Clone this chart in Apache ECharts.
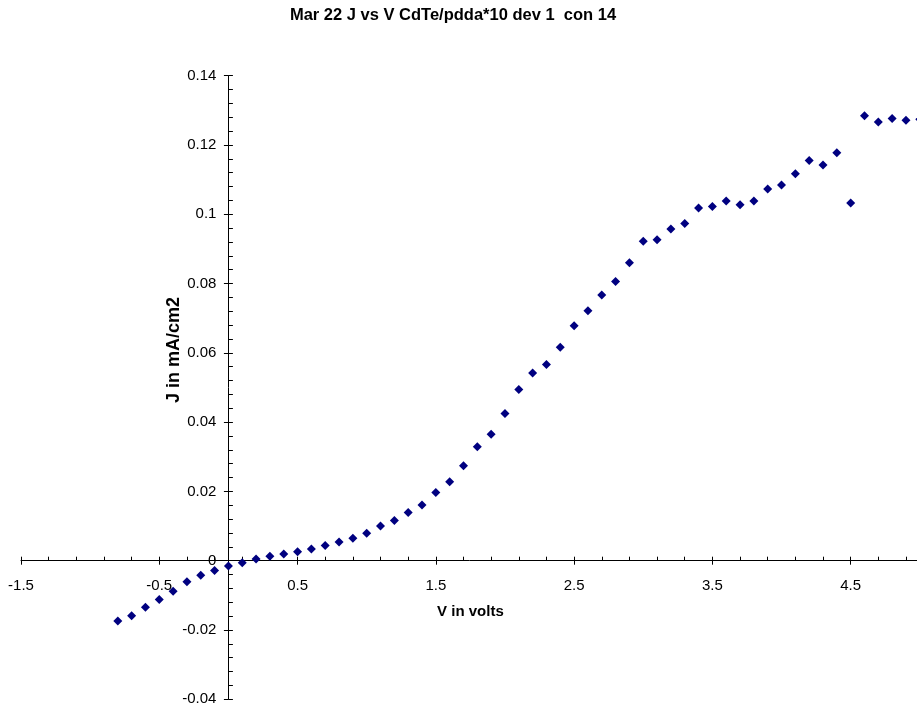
<!DOCTYPE html>
<html>
<head>
<meta charset="utf-8">
<script src="https://cdn.jsdelivr.net/npm/echarts@6/dist/echarts.min.js"></script>
<style>html,body{margin:0;padding:0;background:#fff;}#c{width:917px;height:708px;}</style>
</head>
<body>
<div id="c"></div>
<script>
// Data
var voltage = [-0.8,-0.7,-0.6,-0.5,-0.4,-0.3,-0.2,-0.1,0.0,0.1,0.2,0.3,0.4,0.5,0.6,0.7,0.8,0.9,1.0,1.1,1.2,1.3,1.4,1.5,1.6,1.7,1.8,1.9,2.0,2.1,2.2,2.3,2.4,2.5,2.6,2.7,2.8,2.9,3.0,3.1,3.2,3.3,3.4,3.5,3.6,3.7,3.8,3.9,4.0,4.1,4.2,4.3,4.4,4.5,4.6,4.7,4.8,4.9,5.0];
var current = [-0.0174,-0.0159,-0.0134,-0.0112,-0.0088,-0.0061,-0.0042,-0.0028,-0.0015,-0.0006,0.0005,0.0013,0.0019,0.0026,0.0034,0.0044,0.0054,0.0065,0.0079,0.0100,0.0116,0.0139,0.0161,0.0197,0.0228,0.0274,0.0329,0.0365,0.0425,0.0494,0.0542,0.0566,0.0616,0.0678,0.0721,0.0767,0.0806,0.0860,0.0922,0.0926,0.0957,0.0973,0.1018,0.1022,0.1038,0.1027,0.1038,0.1073,0.1084,0.1117,0.1155,0.1142,0.1177,0.1032,0.1284,0.1266,0.1276,0.1271,0.1274];
var xMajorTicks = [-1.5,-0.5,0.5,1.5,2.5,3.5,4.5];
var xMinorTicks = [-1.5,-1.3,-1.1,-0.9,-0.7,-0.5,-0.3,-0.1,0.1,0.3,0.5,0.7,0.9,1.1,1.3,1.5,1.7,1.9,2.1,2.3,2.5,2.7,2.9,3.1,3.3,3.5,3.7,3.9,4.1,4.3,4.5,4.7,4.9];
var titleText = 'Mar 22 J vs V CdTe/pdda*10 dev 1  con 14';
var xName = 'V in volts';
var yName = 'J in mA/cm2';

var X_MIN = -1.5, X_MAX = 5, Y_MIN = -0.04, Y_MAX = 0.14;
var G = { left: 21, top: 75.6, width: 898.8, height: 623.7 };
// axes cross at zero: shift axes from grid edges to the zero lines
var yOff = -G.width * (0 - X_MIN) / (X_MAX - X_MIN);
var xOff = -G.height * (0 - Y_MIN) / (Y_MAX - Y_MIN);

var points = voltage.map(function (v, i) { return [v, current[i]]; });
var FONT = 'Liberation Sans, Arial, sans-serif';

var chart = echarts.init(document.getElementById('c'));
chart.setOption({
  animation: false,
  backgroundColor: '#fff',
  grid: { left: G.left, top: G.top, width: G.width, height: G.height, containLabel: false, outerBoundsMode: 'none' },
  xAxis: [{
    type: 'value', min: X_MIN, max: X_MAX, position: 'bottom', offset: xOff,
    axisLine: { show: true, onZero: false, lineStyle: { color: '#000', width: 1 } },
    axisTick: { show: true, length: 4, customValues: xMajorTicks, lineStyle: { color: '#000' } },
    axisLabel: { customValues: xMajorTicks, margin: 18, color: '#000', fontFamily: FONT, fontSize: 15 },
    splitLine: { show: false },
    name: xName, nameLocation: 'middle', nameGap: 44,
    nameTextStyle: { fontFamily: FONT, fontWeight: 'bold', fontSize: 15, color: '#000' }
  }, {
    type: 'value', min: X_MIN, max: X_MAX, position: 'bottom', offset: xOff,
    axisLine: { show: false, onZero: false },
    axisTick: { show: true, inside: true, length: 4, customValues: xMinorTicks, lineStyle: { color: '#000' } },
    axisLabel: { show: false },
    splitLine: { show: false }
  }],
  yAxis: [{
    type: 'value', min: Y_MIN, max: Y_MAX, interval: 0.02, position: 'left', offset: yOff,
    axisLine: { show: true, onZero: false, lineStyle: { color: '#000', width: 1 } },
    axisTick: { show: true, length: 4.5, lineStyle: { color: '#000' } },
    axisLabel: { margin: 12, color: '#000', fontFamily: FONT, fontSize: 15 },
    splitLine: { show: false }
  }, {
    type: 'value', min: Y_MIN, max: Y_MAX, interval: 0.02, position: 'left', offset: yOff,
    axisLine: { show: false, onZero: false },
    axisTick: { show: true, inside: true, length: 4.5, lineStyle: { color: '#000' } },
    minorTick: { show: true, splitNumber: 5, length: 4.5, lineStyle: { color: '#000' } },
    axisLabel: { show: false },
    splitLine: { show: false }
  }],
  graphic: [{
    type: 'text', x: 453, y: 15,
    style: { text: titleText, font: 'bold 16.5px ' + FONT, fill: '#000', align: 'center', verticalAlign: 'middle' }
  }, {
    type: 'text', x: 174, y: 350, rotation: Math.PI / 2,
    style: { text: yName, font: 'bold 18px ' + FONT, fill: '#000', align: 'center', verticalAlign: 'middle' }
  }],
  series: [{
    type: 'scatter', xAxisIndex: 0, yAxisIndex: 0,
    data: points, symbol: 'diamond', symbolSize: 9,
    itemStyle: { color: '#000080', opacity: 1 }
  }]
});
</script>
</body>
</html>
